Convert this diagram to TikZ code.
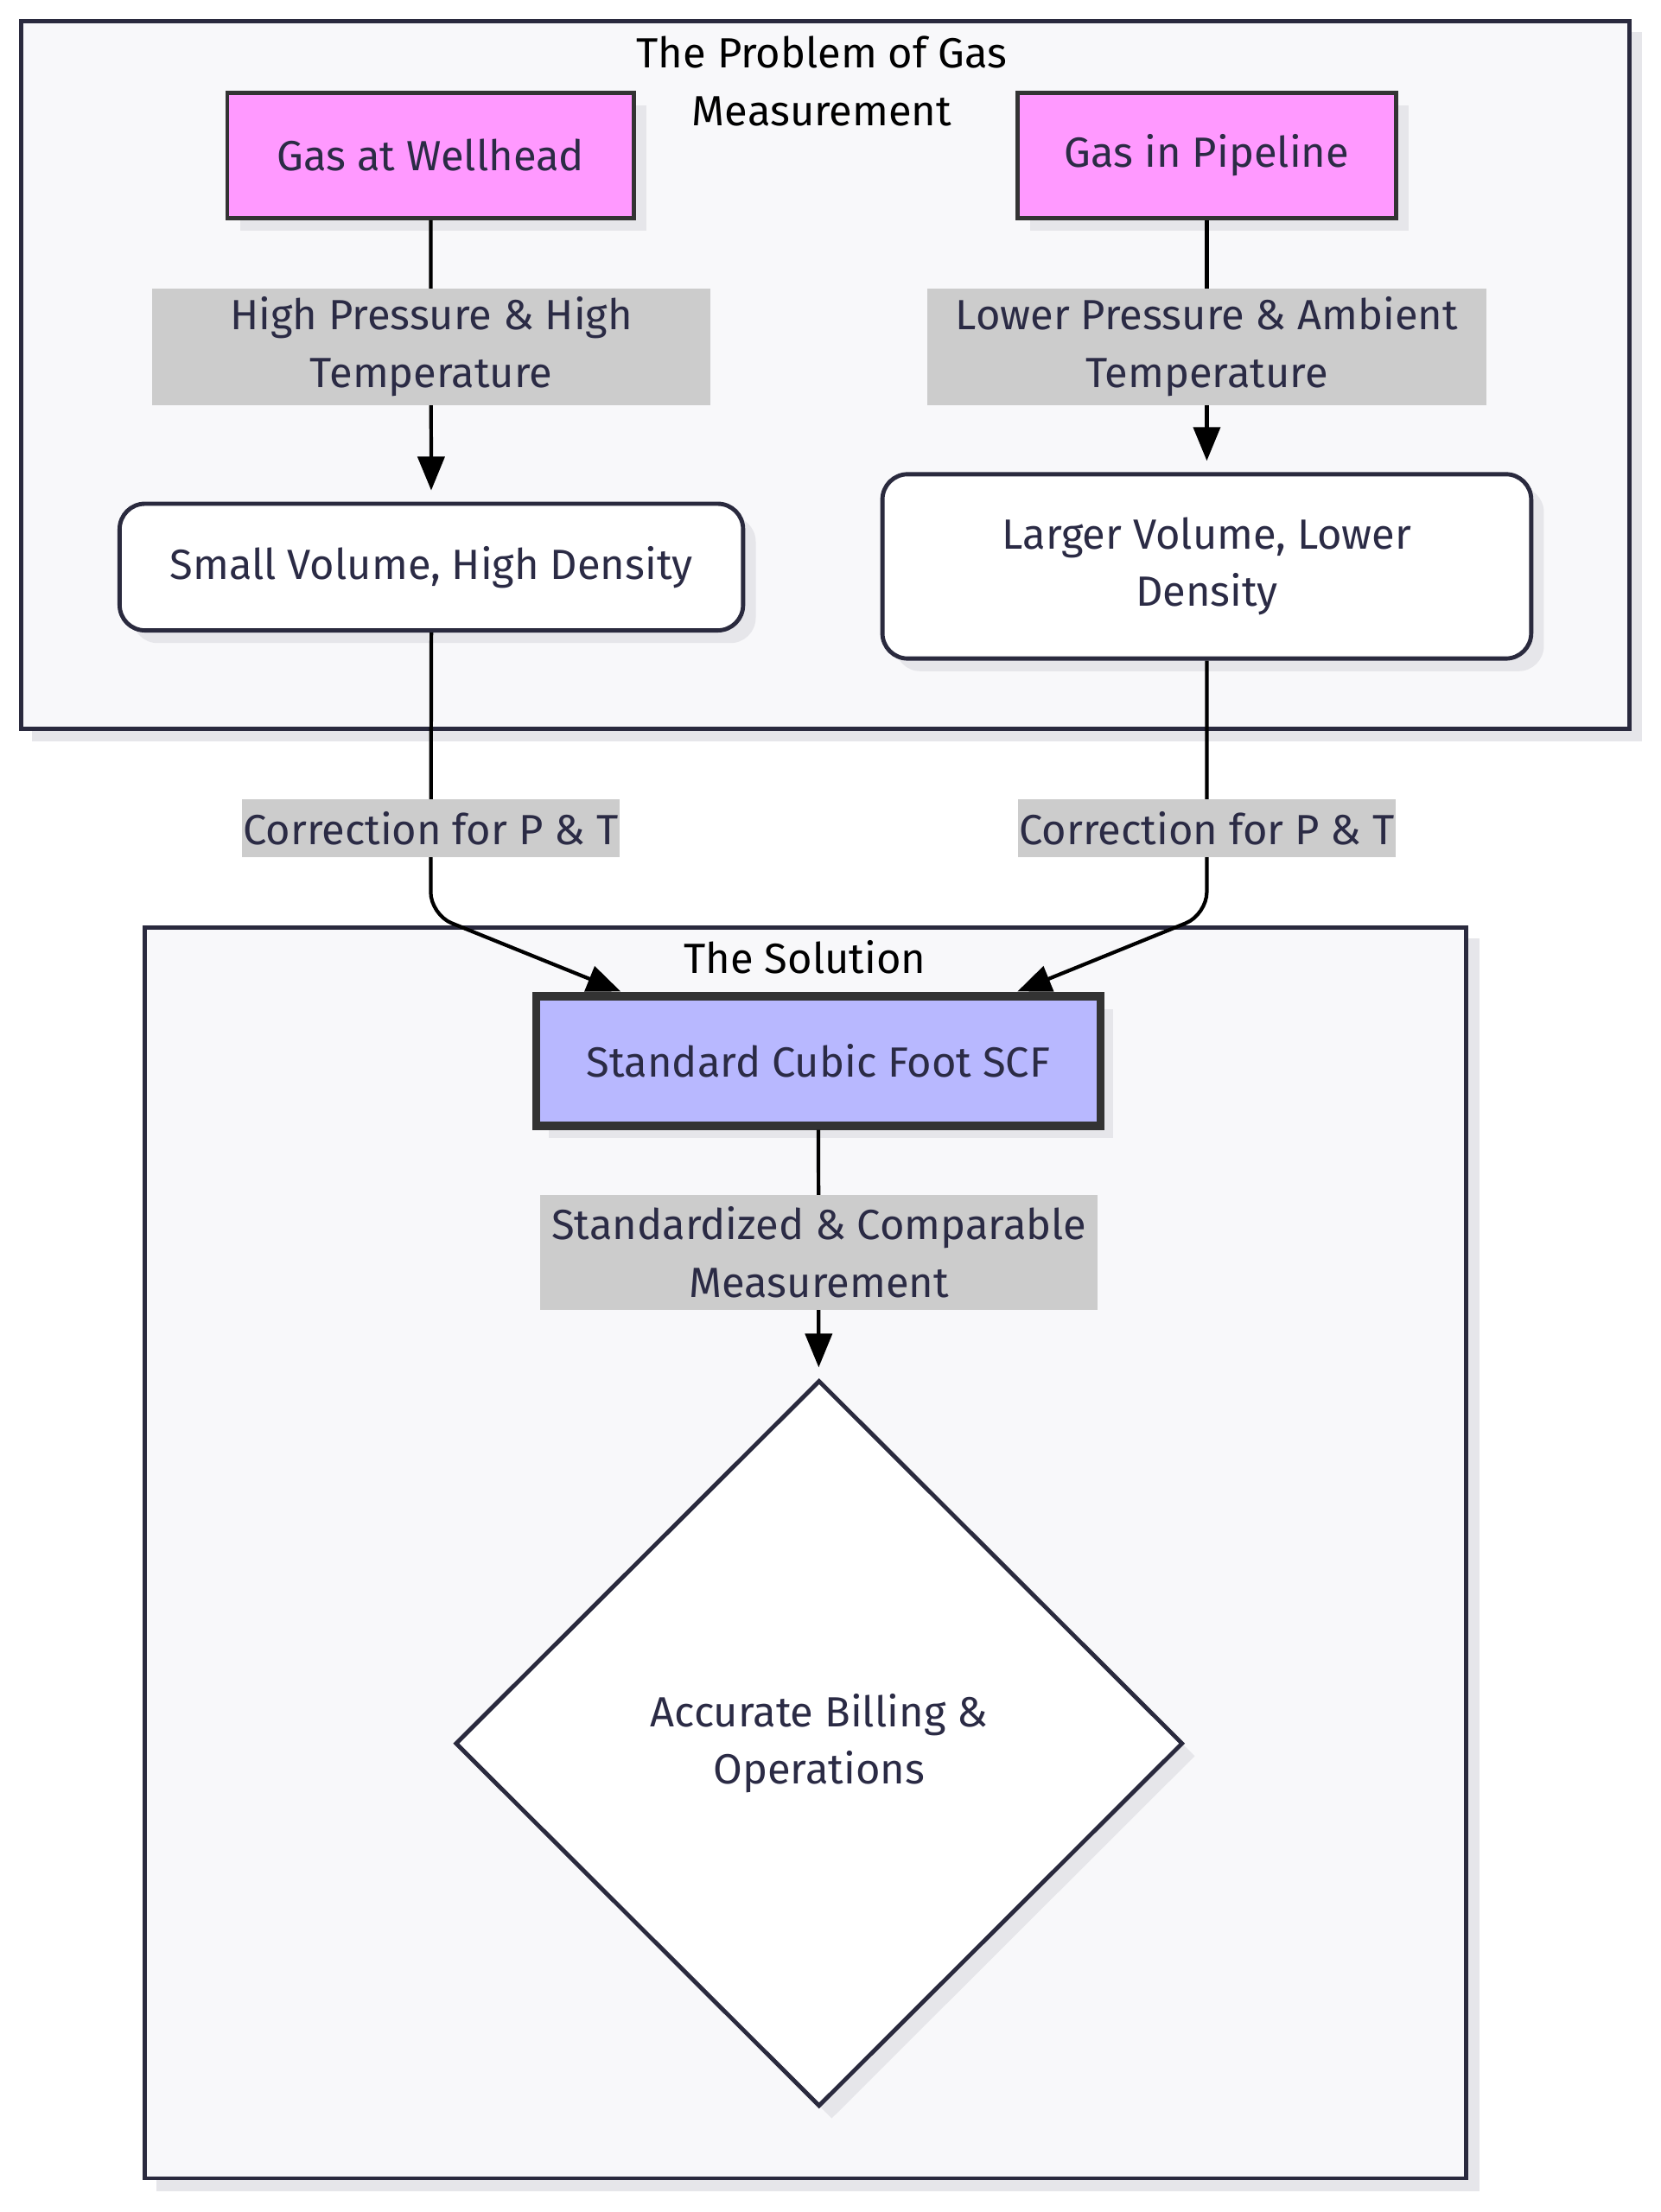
\documentclass[tikz,border=0pt]{standalone}
\usepackage{fontspec}
\setmainfont{Fira Sans}
\usetikzlibrary{arrows.meta,shapes.geometric,shadows}
\definecolor{ink}{HTML}{2B2B45}
\definecolor{frame}{HTML}{2A2A3E}
\definecolor{clusterbg}{HTML}{F8F8FA}
\definecolor{shadowgray}{HTML}{E6E6EA}
\definecolor{pink}{HTML}{FF99FF}
\definecolor{lilac}{HTML}{B8B8FF}
\definecolor{lblgray}{HTML}{CCCCCC}
\tikzset{
    txt/.style={text=ink, font=\fontsize{30}{41}\selectfont, align=center, inner sep=0pt},
    shadowed/.style={drop shadow={shadow xshift=9pt, shadow yshift=-9pt, fill=shadowgray, opacity=1}},
    startbox/.style={txt, shadowed, draw=black!80, line width=3pt, fill=pink},
    roundbox/.style={txt, shadowed, draw=frame, line width=3pt, fill=white, rounded corners=18pt},
    lbl/.style={txt, fill=lblgray},
    edge/.style={draw=black, line width=2.6pt, -{Triangle[length=24pt,width=19pt]}},
    cluster/.style={draw=frame, fill=clusterbg, line width=3pt}
}
\begin{document}
\begin{tikzpicture}[x=1pt,y=-1pt]
    \useasboundingbox[fill=white] (0,0) rectangle (1180,1572);
    % the two groups
    \fill[shadowgray] (23,23) rectangle (1167,527);
    \draw[cluster] (15,15) rectangle (1158,518);
    \node[txt, text=black] (probtitle) at (584,57.5) {The Problem of Gas\\Measurement};
    \fill[shadowgray] (111,667) rectangle (1051,1557);
    \draw[cluster] (103,659) rectangle (1042,1548);
    \node[txt, text=black] (soltitle) at (572,680) {The Solution};

    % nodes
    \node[startbox, minimum width=289pt, minimum height=89pt] (wellhead) at (306,110.5) {Gas at Wellhead};
    \node[startbox, minimum width=269pt, minimum height=89pt] (pipeline) at (857.5,110.5) {Gas in Pipeline};
    \node[roundbox, minimum width=443pt, minimum height=90pt] (small) at (306.5,403) {Small Volume, High Density};
    \node[roundbox, minimum width=461pt, minimum height=131pt] (larger) at (857.5,402.5) {Larger Volume, Lower\\Density};
    \node[txt, shadowed, draw=black!80, line width=6pt, fill=lilac, minimum width=401pt, minimum height=92pt] (scf) at (581.5,754) {Standard Cubic Foot SCF};
    \node[txt, shadowed, diamond, draw=frame, line width=3pt, fill=white, minimum width=517pt, minimum height=516pt] (billing) at (582,1239) {Accurate Billing \&\\Operations};

    % connectors
    \draw[edge, shorten >=8pt] (wellhead) -- (small);
    \draw[edge, shorten >=8pt] (pipeline) -- (larger);
    \draw[edge, rounded corners=16pt, shorten >=1pt] (small.south) -- (306,650) -- ([xshift=64pt]scf.north west);
    \draw[edge, rounded corners=16pt, shorten >=1pt] (larger.south) -- (857.5,650) -- ([xshift=-63pt]scf.north east);
    \draw[edge, shorten >=8pt] (scf) -- (billing);

    % edge labels
    \node[lbl, minimum width=397pt, minimum height=83pt] (lblhigh) at (306.5,246.5) {High Pressure \& High\\Temperature};
    \node[lbl, minimum width=397pt, minimum height=83pt] (lbllow) at (857.5,246.5) {Lower Pressure \& Ambient\\Temperature};
    \node[lbl, minimum width=268pt, minimum height=41pt] (corrleft) at (306,588.5) {Correction for P \& T};
    \node[lbl, minimum width=268pt, minimum height=41pt] (corrright) at (857.5,588.5) {Correction for P \& T};
    \node[lbl, minimum width=396pt, minimum height=82pt] (lblstd) at (582,890) {Standardized \& Comparable\\Measurement};
\end{tikzpicture}
\end{document}
